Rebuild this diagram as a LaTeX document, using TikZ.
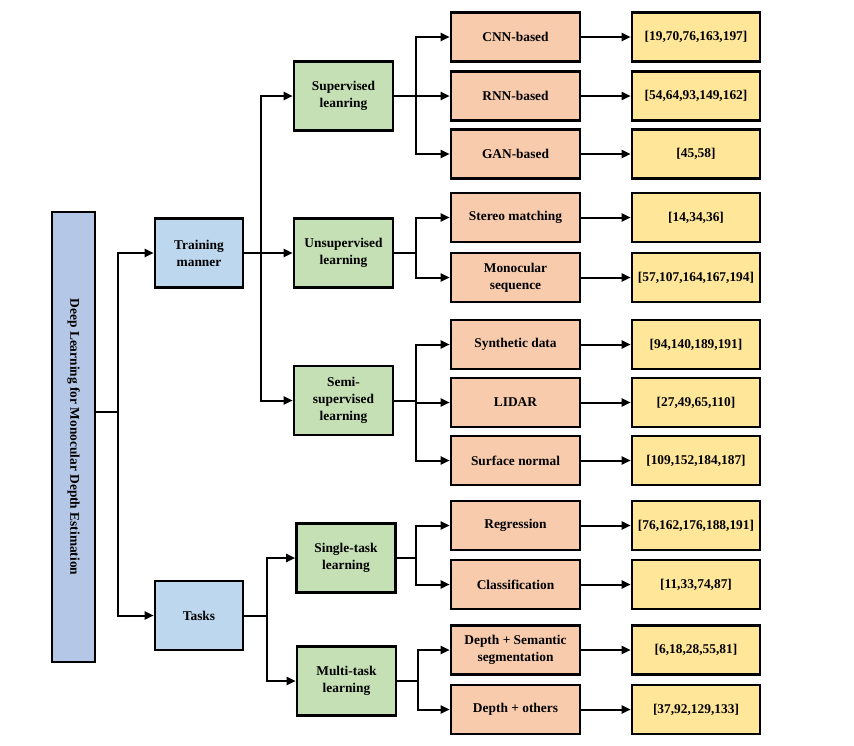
\documentclass[tikz,border=0pt]{standalone}
\usepackage{fontspec}
\setmainfont{Liberation Serif}
\usetikzlibrary{arrows.meta}
\definecolor{rootc}{RGB}{180,199,231}
\definecolor{bluec}{RGB}{189,215,238}
\definecolor{greenc}{RGB}{197,224,180}
\definecolor{orangec}{RGB}{248,203,173}
\definecolor{yellowc}{RGB}{255,230,153}
\tikzset{
  box/.style={draw=black, line width=2.6pt, align=center, inner sep=1pt,
    font=\fontsize{13.4}{17}\selectfont\bfseries},
  rootbox/.style={box, fill=rootc, minimum width=43pt, minimum height=450pt},
  l1box/.style={box, fill=bluec, minimum width=88pt, minimum height=69pt},
  l2box/.style={box, fill=greenc, minimum width=99pt, minimum height=69pt},
  l3box/.style={box, fill=orangec, minimum width=129pt, minimum height=49pt},
  l4box/.style={box, fill=yellowc, minimum width=128pt, minimum height=49pt},
  conn/.style={line width=2pt},
  arr/.style={conn, -{Triangle[length=9pt,width=8pt]}}
}
\begin{document}
\begin{tikzpicture}[x=1pt,y=-1pt]
\useasboundingbox (0,0) rectangle (854,745);
% root
\node[rootbox] (root) at (73.5,437) {};
\node[rotate=-90, font=\fontsize{13.4}{17}\selectfont\bfseries] (roottext) at (root.center) {Deep Learning for Monocular Depth Estimation};
% level 1
\node[l1box] (train) at (199,253) {Training\\manner};
\node[l1box] (tasks) at (199,615.5) {Tasks};
% level 2
\node[l2box] (sup) at (343.5,96) {Supervised\\leanring};
\node[l2box] (unsup) at (343.5,253) {Unsupervised\\learning};
\node[l2box] (semi) at (343.5,400.5) {Semi-\\supervised\\learning};
\node[l2box] (single) at (346,558) {Single-task\\learning};
\node[l2box] (multi) at (346.5,681) {Multi-task\\learning};
% level 3
\node[l3box] (cnn) at (515.5,37) {CNN-based};
\node[l3box] (rnn) at (515.5,96) {RNN-based};
\node[l3box] (gan) at (515.5,154) {GAN-based};
\node[l3box] (stereo) at (515.5,217.5) {Stereo matching};
\node[l3box] (mono) at (515.5,277.5) {Monocular\\sequence};
\node[l3box] (synth) at (515.5,344.5) {Synthetic data};
\node[l3box] (lidar) at (515.5,402.5) {LIDAR};
\node[l3box] (surf) at (515.5,460.5) {Surface normal};
\node[l3box] (regr) at (515.5,525.5) {Regression};
\node[l3box] (class) at (515.5,584.5) {Classification};
\node[l3box] (dsem) at (515.5,650) {Depth + Semantic\\segmentation};
\node[l3box] (doth) at (515.5,709.5) {Depth + others};
% level 4
\node[l4box] (r1) at (696,37) {[19,70,76,163,197]};
\node[l4box] (r2) at (696,96) {[54,64,93,149,162]};
\node[l4box] (r3) at (696,154) {[45,58]};
\node[l4box] (r4) at (696,217.5) {[14,34,36]};
\node[l4box] (r5) at (696,277.5) {[57,107,164,167,194]};
\node[l4box] (r6) at (696,344.5) {[94,140,189,191]};
\node[l4box] (r7) at (696,402.5) {[27,49,65,110]};
\node[l4box] (r8) at (696,460.5) {[109,152,184,187]};
\node[l4box] (r9) at (696,525.5) {[76,162,176,188,191]};
\node[l4box] (r10) at (696,584.5) {[11,33,74,87]};
\node[l4box] (r11) at (696,650) {[6,18,28,55,81]};
\node[l4box] (r12) at (696,709.5) {[37,92,129,133]};
% junctions
\coordinate (rj) at (118,412);
\coordinate (tj) at (261,253);
\coordinate (kj) at (267,615.5);
\coordinate (sj) at (416,96);
\coordinate (uj) at (416,253);
\coordinate (mj) at (416,400.5);
\coordinate (gj) at (416,558);
\coordinate (nj) at (418,681);
% root connectors
\draw[conn] (root.east |- rj) -- (rj);
\draw[arr] (rj) |- (train.west);
\draw[arr] (rj) |- (tasks.west);
% training manner
\draw[conn] (train.east) -- (tj);
\draw[arr] (tj) |- (sup.west);
\draw[arr] (tj) |- (unsup.west);
\draw[arr] (tj) |- (semi.west);
% tasks
\draw[conn] (tasks.east) -- (kj);
\draw[arr] (kj) |- (single.west);
\draw[arr] (kj) |- (multi.west);
% supervised
\draw[conn] (sup.east) -- (sj);
\draw[arr] (sj) |- (cnn.west);
\draw[arr] (sj) |- (rnn.west);
\draw[arr] (sj) |- (gan.west);
% unsupervised
\draw[conn] (unsup.east) -- (uj);
\draw[arr] (uj) |- (stereo.west);
\draw[arr] (uj) |- (mono.west);
% semi
\draw[conn] (semi.east) -- (mj);
\draw[arr] (mj) |- (synth.west);
\draw[arr] (mj) |- (lidar.west);
\draw[arr] (mj) |- (surf.west);
% single
\draw[conn] (single.east) -- (gj);
\draw[arr] (gj) |- (regr.west);
\draw[arr] (gj) |- (class.west);
% multi
\draw[conn] (multi.east) -- (nj);
\draw[arr] (nj) |- (dsem.west);
\draw[arr] (nj) |- (doth.west);
% level 3 -> level 4
\draw[arr] (cnn) -- (r1);
\draw[arr] (rnn) -- (r2);
\draw[arr] (gan) -- (r3);
\draw[arr] (stereo) -- (r4);
\draw[arr] (mono) -- (r5);
\draw[arr] (synth) -- (r6);
\draw[arr] (lidar) -- (r7);
\draw[arr] (surf) -- (r8);
\draw[arr] (regr) -- (r9);
\draw[arr] (class) -- (r10);
\draw[arr] (dsem) -- (r11);
\draw[arr] (doth) -- (r12);
\end{tikzpicture}
\end{document}
